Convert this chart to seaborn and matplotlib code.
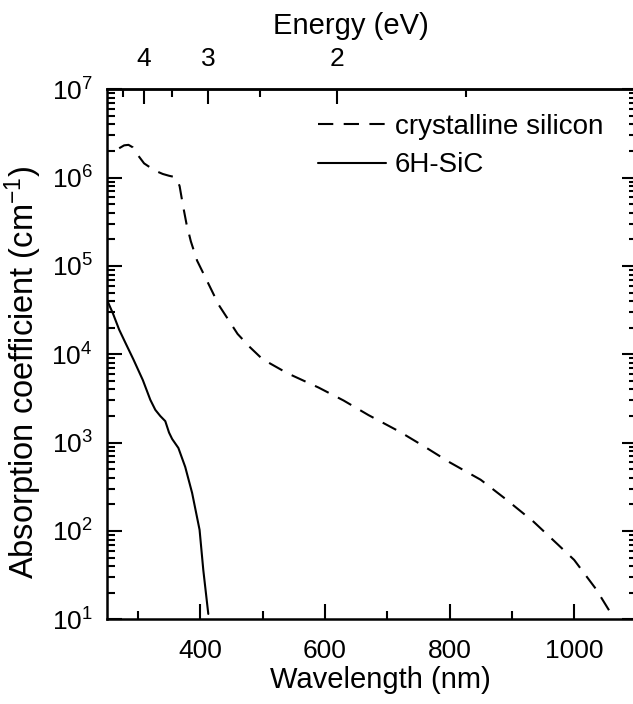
import numpy as np
import pandas as pd
import matplotlib
matplotlib.use("Agg")
import matplotlib.pyplot as plt
import seaborn as sns
from matplotlib.ticker import NullFormatter, FixedLocator, LogFormatterSciNotation

# Absorption spectra: wavelength (nm) vs absorption coefficient (cm^-1)
si_wavelength = [270, 278, 285, 292, 300, 310, 320, 330, 340, 350, 358, 363,
                 367, 372, 378, 385, 395, 410, 430, 460, 480, 500, 540, 590,
                 630, 670, 720, 760, 800, 850, 890, 935, 975, 1000, 1035, 1063]
si_alpha = [2.15e6, 2.32e6, 2.35e6, 2.2e6, 1.8e6, 1.45e6, 1.3e6, 1.18e6, 1.1e6,
            1.05e6, 1.02e6, 9.5e5, 8.0e5, 5.0e5, 3.0e5, 1.9e5, 1.15e5, 7.0e4,
            3.6e4, 1.7e4, 1.2e4, 8.8e3, 6.1e3, 4.2e3, 3.0e3, 2.05e3, 1.33e3,
            9.0e2, 6.0e2, 3.8e2, 2.3e2, 1.27e2, 6.9e1, 4.7e1, 2.2e1, 1.05e1]

sic_wavelength = [250, 260, 270, 280, 293, 308, 320, 328, 336, 344, 350, 355,
                  365, 376, 387, 399, 405, 413]
sic_alpha = [4.2e4, 2.9e4, 1.9e4, 1.35e4, 8.7e3, 5.1e3, 3.05e3, 2.35e3, 2.0e3,
             1.75e3, 1.3e3, 1.1e3, 8.7e2, 5.3e2, 2.7e2, 1.03e2, 3.6e1, 1.15e1]

series_labels = ["crystalline silicon", "6H-SiC"]
x_major_ticks = [400, 600, 800, 1000]
x_minor_ticks = [300, 500, 700, 900, 1100]
y_major_ticks = [1e1, 1e2, 1e3, 1e4, 1e5, 1e6, 1e7]
energy_major_ticks = [4, 3, 2]
energy_minor_ticks = [4.5, 3.5, 2.5, 1.5]

sns.set_theme(style="ticks")
plt.rcParams["font.family"] = ["Liberation Sans", "DejaVu Sans"]
plt.rcParams["mathtext.fontset"] = "custom"
plt.rcParams["mathtext.rm"] = "Liberation Sans"
plt.rcParams["mathtext.it"] = "Liberation Sans:italic"
plt.rcParams["mathtext.bf"] = "Liberation Sans:bold"

si_df = pd.DataFrame({"wavelength": si_wavelength, "alpha": si_alpha})
sic_df = pd.DataFrame({"wavelength": sic_wavelength, "alpha": sic_alpha})

W, H = 633, 704
fig = plt.figure(figsize=(W / 100, H / 100), dpi=100)
x0, x1, y_bot, y_top = 106.7, 636.5, 619.3, 89.3
ax = fig.add_axes([x0 / W, (H - y_bot) / H, (x1 - x0) / W, (y_bot - y_top) / H])


def px_x(px):
    return (px - x0) / (x1 - x0)


def px_y(py):
    return (y_bot - py) / (y_bot - y_top)


lw = 1.5
sns.lineplot(data=si_df, x="wavelength", y="alpha", ax=ax, color="black",
             linewidth=lw, linestyle=(0, (11.0 / lw, 7.5 / lw)),
             sort=False, estimator=None, label=series_labels[0])
sns.lineplot(data=sic_df, x="wavelength", y="alpha", ax=ax, color="black",
             linewidth=lw, sort=False, estimator=None, label=series_labels[1])

ax.set_yscale("log")
ax.set_xlim(250, 1100)
ax.set_ylim(1e1, 1e7)

ax.xaxis.set_major_locator(FixedLocator(x_major_ticks))
ax.xaxis.set_minor_locator(FixedLocator(x_minor_ticks))
ax.yaxis.set_major_locator(FixedLocator(y_major_ticks))
ax.yaxis.set_major_formatter(LogFormatterSciNotation())
y_minor = [m * 10.0 ** d for d in range(1, 7) for m in range(2, 10)]
ax.yaxis.set_minor_locator(FixedLocator(y_minor))
ax.yaxis.set_minor_formatter(NullFormatter())

tick_fs = 19
for side in ax.spines.values():
    side.set_linewidth(1.8)
    side.set_color("black")

ax.tick_params(which="both", direction="in", top=False, right=True,
               color="black", width=1.5, labelsize=tick_fs, labelcolor="black")
ax.tick_params(which="major", length=10.5)
ax.tick_params(which="minor", length=5.8)
ax.tick_params(axis="x", which="major", pad=14)
ax.tick_params(axis="y", which="major", pad=10)

ax.set_xlabel("Wavelength (nm)", fontsize=21, color="black")
ax.xaxis.set_label_coords(px_x(380), px_y(666), transform=ax.transAxes)
ax.set_ylabel("Absorption coefficient (cm$^{-1}$)", fontsize=23.5, color="black")
ax.yaxis.set_label_coords(px_x(44), px_y(372), transform=ax.transAxes)


def to_energy(wl):
    wl = np.asarray(wl, dtype=float)
    with np.errstate(divide="ignore", invalid="ignore"):
        return 1239.84 / wl


def to_wavelength(e):
    e = np.asarray(e, dtype=float)
    with np.errstate(divide="ignore", invalid="ignore"):
        return 1239.84 / e


top = ax.secondary_xaxis("top", functions=(to_energy, to_wavelength))
top.set_xticks(energy_major_ticks)
top.set_xticklabels([str(v) for v in energy_major_ticks])
top.xaxis.set_minor_locator(FixedLocator(energy_minor_ticks))
top.tick_params(which="both", direction="in", color="black", width=1.5,
                labelsize=tick_fs, labelcolor="black")
top.tick_params(which="major", length=10.5, pad=13)
top.tick_params(which="minor", length=5.8)
top.spines["top"].set_linewidth(1.8)
top.set_xlabel("Energy (eV)", fontsize=21, color="black")
top.xaxis.set_label_coords(px_x(350.5), px_y(34), transform=ax.transAxes)

ax.legend(loc="upper left", bbox_to_anchor=(px_x(318.3), px_y(114)), frameon=False,
          fontsize=20, handlelength=2.45, handletextpad=0.3,
          borderpad=0, borderaxespad=0, labelspacing=0.45, labelcolor="black")

fig.savefig("out.png", dpi=100)
